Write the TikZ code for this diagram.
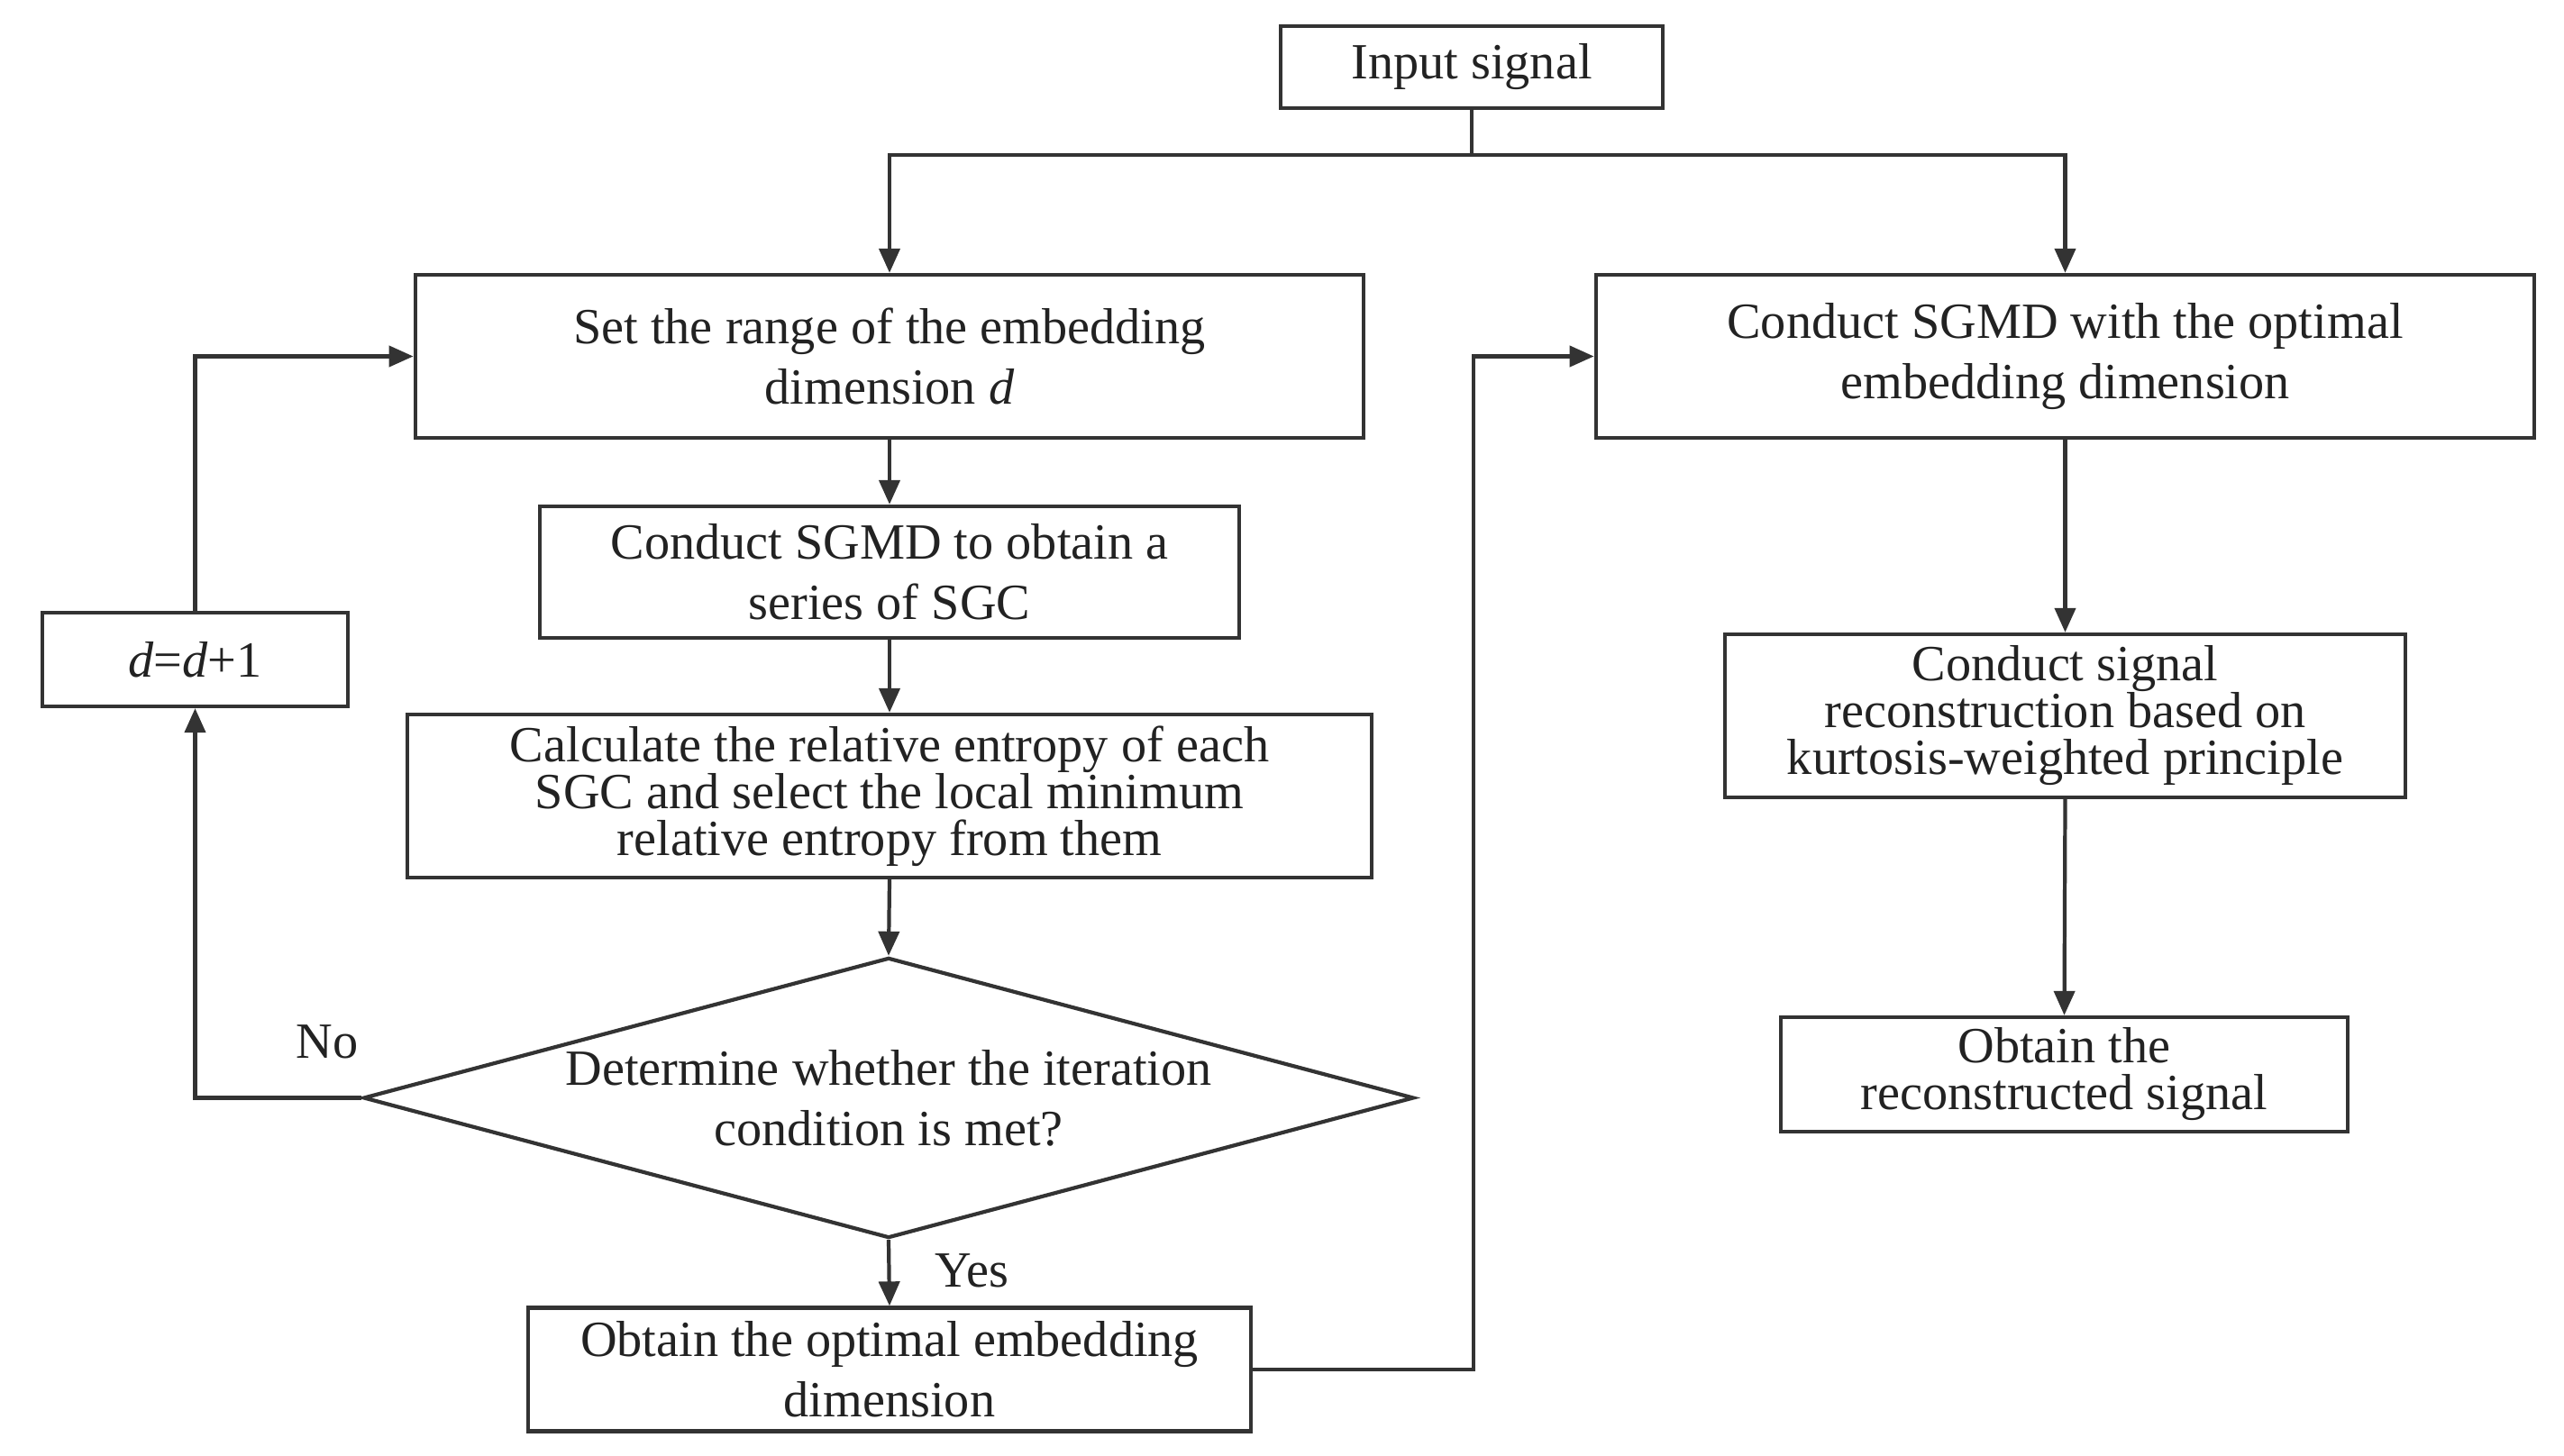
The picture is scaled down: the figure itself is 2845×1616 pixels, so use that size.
\documentclass[tikz,border=0pt]{standalone}
\usepackage{fontspec}
\setmainfont{Liberation Serif}
\usetikzlibrary{shapes.geometric,arrows.meta,positioning}
\definecolor{linegray}{RGB}{51,51,51}
\definecolor{textgray}{RGB}{34,34,34}

\begin{document}
\begin{tikzpicture}[x=0.01cm,y=-0.01cm,
  stage/.style={draw=linegray,line width=1.2pt,text=textgray,align=center,inner sep=0pt,font=\fontsize{16}{19}\selectfont},
  packed/.style={font=\fontsize{16}{14.8}\selectfont},
  decision/.style={stage,diamond,aspect=3.75},
  flow/.style={draw=linegray,line width=1.2pt,-{Triangle[length=0.27cm,width=0.23cm]}},
  link/.style={draw=linegray,line width=1.2pt},
  tag/.style={text=textgray,font=\fontsize{16}{19}\selectfont}]
\useasboundingbox (0,0) rectangle (2845,1616);
   \node[stage,minimum width=4.24cm,minimum height=0.91cm] (input) at (1633,74.5) {Input signal};
   \node[stage,minimum width=10.52cm,minimum height=1.81cm] (setr) at (987,395.5) {Set the range of the embedding\\dimension \textit{d}};
   \node[stage,minimum width=7.76cm,minimum height=1.46cm] (sgmd) at (987,635) {Conduct SGMD to obtain a\\series of SGC};
   \node[stage,packed,minimum width=10.70cm,minimum height=1.81cm] (calc) at (987,883.5) {Calculate the relative entropy of each\\SGC and select the local minimum\\relative entropy from them};
   \node[decision,minimum width=11.65cm,minimum height=3.11cm] (dec) at (986,1218.5) {Determine whether the iteration\\condition is met?};
   \node[stage,minimum width=8.02cm,minimum height=1.37cm] (optim) at (987,1520) {Obtain the optimal embedding\\dimension};
   \node[stage,minimum width=3.39cm,minimum height=1.04cm] (incr) at (216.5,732) {\textit{d}=\textit{d}+1};
   \node[stage,minimum width=10.41cm,minimum height=1.81cm] (sgmdopt) at (2291.5,395.5) {Conduct SGMD with the optimal\\embedding dimension};
   \node[stage,packed,minimum width=7.55cm,minimum height=1.81cm] (recon) at (2291.5,794.5) {Conduct signal\\reconstruction based on\\kurtosis-weighted principle};
   \node[stage,packed,minimum width=6.29cm,minimum height=1.27cm] (result) at (2290.5,1192.5) {Obtain the\\reconstructed signal};
   \node[tag] (nolbl) at (363,1156) {No};
   \node[tag] (yeslbl) at (1078,1410) {Yes};
   \coordinate (split) at (1633,172);
   \coordinate (detour) at (1635,0);
   \draw[link] (input.south) -- (split);
   \draw[flow] (split) -| (setr.north);
   \draw[flow] (split) -| (sgmdopt.north);
   \draw[flow] (setr.south) -- (sgmd.north);
   \draw[flow] (sgmd.south) -- (calc.north);
   \draw[flow] (calc.south) -- (dec.north);
   \draw[flow] (dec.south) -- (optim.north);
   \draw[flow] (dec.west) -| (incr.south);
   \draw[flow] (incr.north) |- (setr.west);
   \draw[flow] (optim.east) -| (detour |- sgmdopt.west) -- (sgmdopt.west);
   \draw[flow] (sgmdopt.south) -- (recon.north);
   \draw[flow] (recon.south) -- (result.north);
\end{tikzpicture}
\end{document}
